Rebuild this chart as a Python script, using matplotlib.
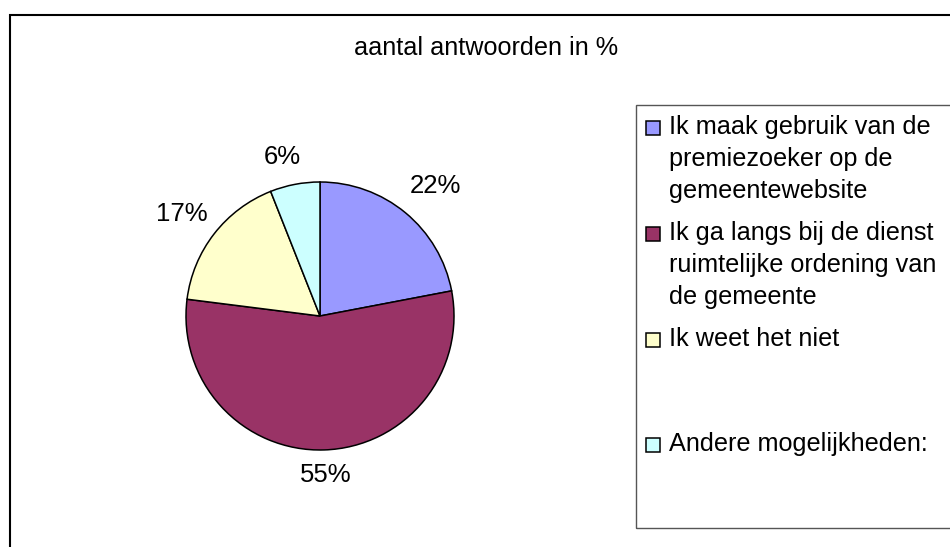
import numpy as np
import matplotlib.pyplot as plt
from matplotlib.patches import Rectangle

plt.rcParams['font.family'] = ['Liberation Sans', 'DejaVu Sans']

# antwoorden (in %)
labels = [
    "Ik maak gebruik van de\npremiezoeker op de\ngemeentewebsite",
    "Ik ga langs bij de dienst\nruimtelijke ordening van\nde gemeente",
    "Ik weet het niet",
    "Andere mogelijkheden:",
]
values = [22, 55, 17, 6]
colors = ['#9999FF', '#993366', '#FFFFCC', '#CCFFFF']

# label placement around the pie (radius factor, angle nudge in degrees)
label_r = [1.30, 1.19, 1.28, 1.22]
label_nudge = [-2.1, 0.4, 1.5, 2.6]

W, H = 950, 547
fig = plt.figure(figsize=(W / 100, H / 100), dpi=100)

# outer chart frame
fig.patches.append(Rectangle((10 / W, -0.1), 1.2, 1 - 15 / H + 0.1,
                             transform=fig.transFigure, fill=False,
                             edgecolor='black', linewidth=1.5))

fig.text(486 / W, 1 - 55 / H, "aantal antwoorden in %", ha='center',
         va='baseline', fontsize=18.2)

# pie, center (320, 316) px, radius 134 px
cx, cy, r = 320, 316, 134
ax = fig.add_axes([(cx - r) / W, 1 - (cy + r) / H, 2 * r / W, 2 * r / H])
wedges, _ = ax.pie(values, colors=colors, startangle=90, counterclock=False,
                   wedgeprops=dict(edgecolor='black', linewidth=1.1))
ax.set_xlim(-1, 1)
ax.set_ylim(-1, 1)
ax.set_aspect('auto')
ax.axis('off')

for w, v, lr, nd in zip(wedges, values, label_r, label_nudge):
    mid = np.deg2rad((w.theta1 + w.theta2) / 2 + nd)
    ax.text(lr * np.cos(mid), lr * np.sin(mid), f"{v}%", ha='center',
            va='center', fontsize=18.5, clip_on=False)

# legend box
fig.patches.append(Rectangle((636 / W, 1 - 528 / H), 0.5, (528 - 105) / H,
                             transform=fig.transFigure, fill=False,
                             edgecolor='#555555', linewidth=1.0))
entry_base = [134, 240, 346, 451]
line_step = 32
for lab, col, yb in zip(labels, colors, entry_base):
    fig.patches.append(Rectangle((646 / W, 1 - (yb + 1) / H), 14 / W, 14 / H,
                                 transform=fig.transFigure, facecolor=col,
                                 edgecolor='black', linewidth=1.1))
    for i, line in enumerate(lab.split("\n")):
        fig.text(669 / W, 1 - (yb + i * line_step) / H, line, ha='left',
                 va='baseline', fontsize=18.2)

fig.savefig('out.png', dpi=100)
